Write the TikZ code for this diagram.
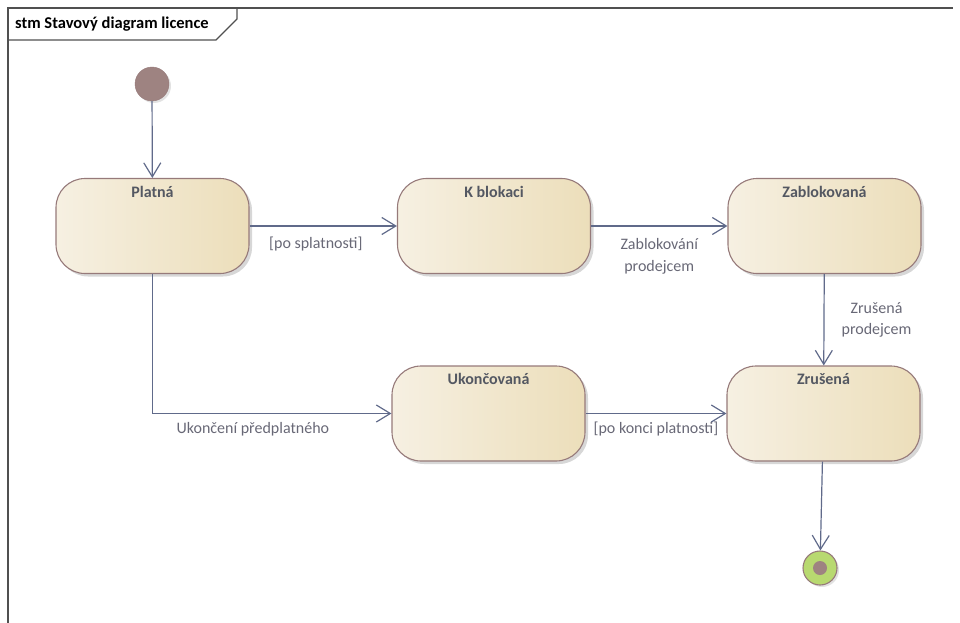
\documentclass[tikz,border=0pt]{standalone}
\usepackage{fontspec}
\setmainfont{Carlito}
\usetikzlibrary{positioning,arrows.meta,shadows}

\definecolor{stateline}{RGB}{150,122,122}
\definecolor{stateleft}{RGB}{246,240,226}
\definecolor{stateright}{RGB}{236,222,186}
\definecolor{edge}{RGB}{96,106,138}
\definecolor{titletext}{RGB}{84,88,98}
\definecolor{labeltext}{RGB}{104,104,118}
\definecolor{pseudo}{RGB}{158,131,129}
\definecolor{finalgreen}{RGB}{184,217,112}
\definecolor{framecol}{RGB}{80,80,80}

\tikzset{
	state/.style={draw=stateline, line width=1.1pt, rounded corners=29pt,
		minimum width=193pt, minimum height=95pt,
		left color=stateleft, right color=stateright,
		drop shadow={shadow xshift=3pt, shadow yshift=-3pt, opacity=0.35, fill=black!45}},
	statename/.style={font=\bfseries\fontsize{16}{19}\selectfont, text=titletext, inner sep=2pt},
	trans/.style={draw=edge, line width=1.2pt,
		-{Straight Barb[length=14pt,width=17pt,line width=1.2pt]}},
	guard/.style={font=\fontsize{16}{21.5}\selectfont, text=labeltext, align=center, inner sep=1pt},
}

\begin{document}
\begin{tikzpicture}[x=1pt, y=-1pt]
		\useasboundingbox (0,0) rectangle (960,623);

		% diagram frame
		\draw[framecol, line width=1.1pt] (8,623) -- (8,8) -- (953,8);
		\draw[framecol, line width=1.1pt] (8,40) -- (216,40) -- (237,19) -- (237,8);
		\node[anchor=west, font=\bfseries\fontsize{16.5}{19}\selectfont, inner sep=0pt] (frametitle) at (15,24) {stm Stavový diagram licence};

		% pseudo states
		\node[circle, draw=stateline, fill=pseudo, minimum size=34pt, inner sep=0pt,
			drop shadow={shadow xshift=2pt, shadow yshift=-2pt, opacity=0.25, fill=black!45}] (init) at (152,84) {};
		\node[circle, draw=stateline, line width=1.1pt, fill=finalgreen, minimum size=34pt, inner sep=0pt,
			drop shadow={shadow xshift=2pt, shadow yshift=-2pt, opacity=0.25, fill=black!45}] (final) at (820,568) {};
		\node[circle, fill=pseudo, minimum size=14pt, inner sep=0pt] (finalin) at (final) {};

		% states
		\node[state] (platna) at (152.5,226) {};
		\node[state] (kblokaci) at (494,226) {};
		\node[state] (zablok) at (824.5,226) {};
		\node[state] (ukoncovana) at (488.5,413.5) {};
		\node[state] (zrusena) at (823.5,413.5) {};

		% state names
		\node[statename, below=6pt of platna.north] (platnaname) {Platná};
		\node[statename, below=6pt of kblokaci.north] (kblokaciname) {K blokaci};
		\node[statename, below=6pt of zablok.north] (zablokname) {Zablokovaná};
		\node[statename, below=6pt of ukoncovana.north] (ukoncovananame) {Ukončovaná};
		\node[statename, below=6pt of zrusena.north] (zrusenaname) {Zrušená};

		% transitions
		\draw[trans] (init) -- (platna);
		\draw[trans] (platna) -- node[guard, below=9pt, pos=0.45] (g1) {[po splatnosti]} (kblokaci);
		\draw[trans] (kblokaci) -- node[guard, below=11pt] (g2) {Zablokování\\prodejcem} (zablok);
		\draw[trans] (zablok) -- node[guard, right=16pt] (g3) {Zrušená\\prodejcem} (zrusena);
		\draw[trans] (platna) |- node[guard, below=7pt, pos=0.71] (g4) {Ukončení předplatného} (ukoncovana);
		\draw[trans] (ukoncovana) -- node[guard, below=7pt] (g5) {[po konci platnosti]} (zrusena);
		\draw[trans] (zrusena) -- (final);
	\end{tikzpicture}
\end{document}
